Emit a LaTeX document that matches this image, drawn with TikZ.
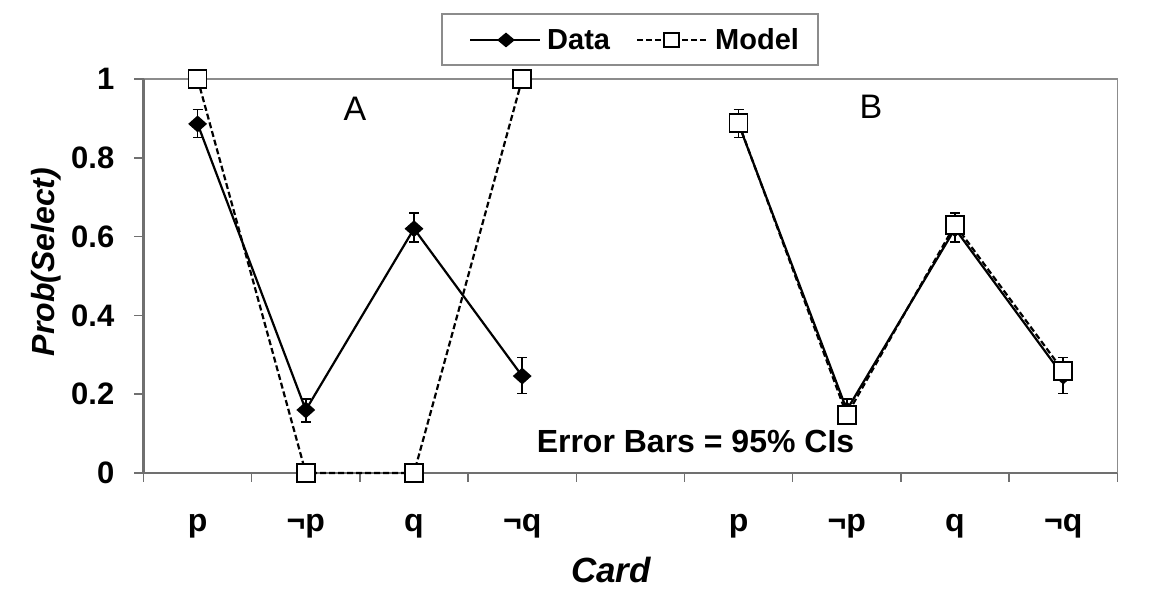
\documentclass[tikz,border=0pt]{standalone}
\usepackage{fontspec}
\setmainfont{Liberation Sans}
\usetikzlibrary{shapes.geometric,arrows.meta}
\definecolor{axisgray}{HTML}{707070}
\definecolor{framegray}{HTML}{8C8C8C}
\begin{document}
\begin{tikzpicture}[x=1pt,y=1pt,
  dataline/.style={black,line width=2.2pt,line join=round},
  modelline/.style={black,line width=2.2pt,dash pattern=on 6pt off 3pt},
  errbar/.style={black,line width=1.5pt,{Bar[width=10pt]}-{Bar[width=10pt]}},
  datamark/.style={diamond,fill=black,inner sep=0pt,minimum width=19pt,minimum height=17pt},
  modelmark/.style={rectangle,draw=black,fill=white,line width=1.6pt,inner sep=0pt,minimum size=18pt},
  ticklab/.style={font=\fontsize{31}{31}\selectfont\bfseries,inner sep=0pt},
  catlab/.style={font=\fontsize{32}{32}\selectfont\bfseries,inner sep=0pt,anchor=base},
  leglab/.style={font=\fontsize{29}{29}\selectfont\bfseries,inner sep=0pt,anchor=base west},
  panellab/.style={font=\fontsize{34}{34}\selectfont,inner sep=0pt,anchor=base}]
\useasboundingbox (0,0) rectangle (1166,612);
\fill[white] (0,0) rectangle (1166,612);

\begin{scope}[shift={(143.5pt,139pt)},x=108.2pt,y=394pt]
  % frame and axes
  \draw[framegray,line width=1.5pt] (0,1) -- (9,1) -- (9,0);
  \draw[axisgray,line width=2.2pt] (0,1) -- (0,0) -- (9,0);
  \foreach \v [count=\k] in {0,0.2,0.4,0.6,0.8,1}
    \draw[axisgray,line width=1.5pt] (0,\v) -- ++(-10pt,0);
  \foreach \i in {0,...,9}
    \draw[axisgray,line width=1.5pt] (\i,0) -- ++(0,-9pt);
  \foreach \v/\t [count=\k] in {0/0,0.2/0.2,0.4/0.4,0.6/0.6,0.8/0.8,1/1}
    \node[ticklab,anchor=east] (ytl\k) at ([xshift=-29pt]0,\v) {\t};

  % data points (A and B)
  \coordinate (dA1) at (0.5,0.886);
  \coordinate (dA2) at (1.5,0.16);
  \coordinate (dA3) at (2.5,0.62);
  \coordinate (dA4) at (3.5,0.246);
  \coordinate (dB1) at (5.5,0.886);
  \coordinate (dB2) at (6.5,0.16);
  \coordinate (dB3) at (7.5,0.62);
  \coordinate (dB4) at (8.5,0.246);
  % model points
  \coordinate (mA1) at (0.5,1);
  \coordinate (mA2) at (1.5,0);
  \coordinate (mA3) at (2.5,0);
  \coordinate (mA4) at (3.5,1);
  \coordinate (mB1) at (5.5,0.888);
  \coordinate (mB2) at (6.5,0.147);
  \coordinate (mB3) at (7.5,0.63);
  \coordinate (mB4) at (8.5,0.259);
  % error bar ends
  \foreach \p/\x in {A/0,B/5}{
    \coordinate (e\p1t) at (\x+0.5,0.924); \coordinate (e\p1b) at (\x+0.5,0.85);
    \coordinate (e\p2t) at (\x+1.5,0.19);  \coordinate (e\p2b) at (\x+1.5,0.127);
    \coordinate (e\p3t) at (\x+2.5,0.662); \coordinate (e\p3b) at (\x+2.5,0.584);
    \coordinate (e\p4t) at (\x+3.5,0.295); \coordinate (e\p4b) at (\x+3.5,0.20);
  }

  % lines
  \draw[dataline] (dA1) -- (dA2) -- (dA3) -- (dA4);
  \draw[dataline] (dB1) -- (dB2) -- (dB3) -- (dB4);
  \draw[modelline] (mA1) -- (mA2) -- (mA3) -- (mA4);
  \draw[modelline] (mB1) -- (mB2) -- (mB3) -- (mB4);
  % error bars
  \foreach \p in {A,B}
    \foreach \j in {1,...,4}
      \draw[errbar] (e\p\j b) -- (e\p\j t);
  % markers
  \foreach \p in {A,B}
    \foreach \j in {1,...,4}
      \node[datamark] (nd\p\j) at (d\p\j) {};
  \foreach \p in {A,B}
    \foreach \j in {1,...,4}
      \node[modelmark] (nm\p\j) at (m\p\j) {};
\end{scope}

% category labels
\foreach \x/\t [count=\k] in {197.6/p,305.8/¬p,414.0/q,522.2/¬q,738.6/p,846.8/¬p,955.0/q,1063.2/¬q}
  \node[catlab] (cat\k) at (\x,80) {\t};

% axis titles
\node[font=\fontsize{32}{32}\selectfont\bfseries\itshape,inner sep=0pt,rotate=90] (ytitle) at (46,350) {Prob(Select)};
\node[font=\fontsize{35}{35}\selectfont\bfseries\itshape,inner sep=0pt,anchor=base] (xtitle) at (611,29) {Card};

% annotations
\node[font=\fontsize{32}{32}\selectfont\bfseries,inner sep=0pt,anchor=base] (errnote) at (695.5,159) {Error Bars = 95\% CIs};
\node[panellab] (panA) at (355,491) {A};
\node[panellab] (panB) at (871,493) {B};

% legend
\node[draw=framegray,line width=1.5pt,minimum width=376pt,minimum height=51pt,inner sep=0pt] (legend) at (630,572.5) {};
\coordinate (ld1) at (470,572);
\coordinate (ld2) at (540,572);
\draw[dataline] (ld1) -- (ld2);
\node[datamark,minimum width=18pt,minimum height=15pt] (ldm) at (506,572) {};
\node[leglab] (ldt) at (547,562) {Data};
\coordinate (lm1) at (637,572);
\coordinate (lm2) at (707,572);
\draw[modelline,dash pattern=on 6pt off 3pt] (lm1) -- (lm2);
\node[modelmark,minimum width=15pt,minimum height=14pt] (lmm) at (671.5,572) {};
\node[leglab] (lmt) at (715,562) {Model};
\end{tikzpicture}
\end{document}
